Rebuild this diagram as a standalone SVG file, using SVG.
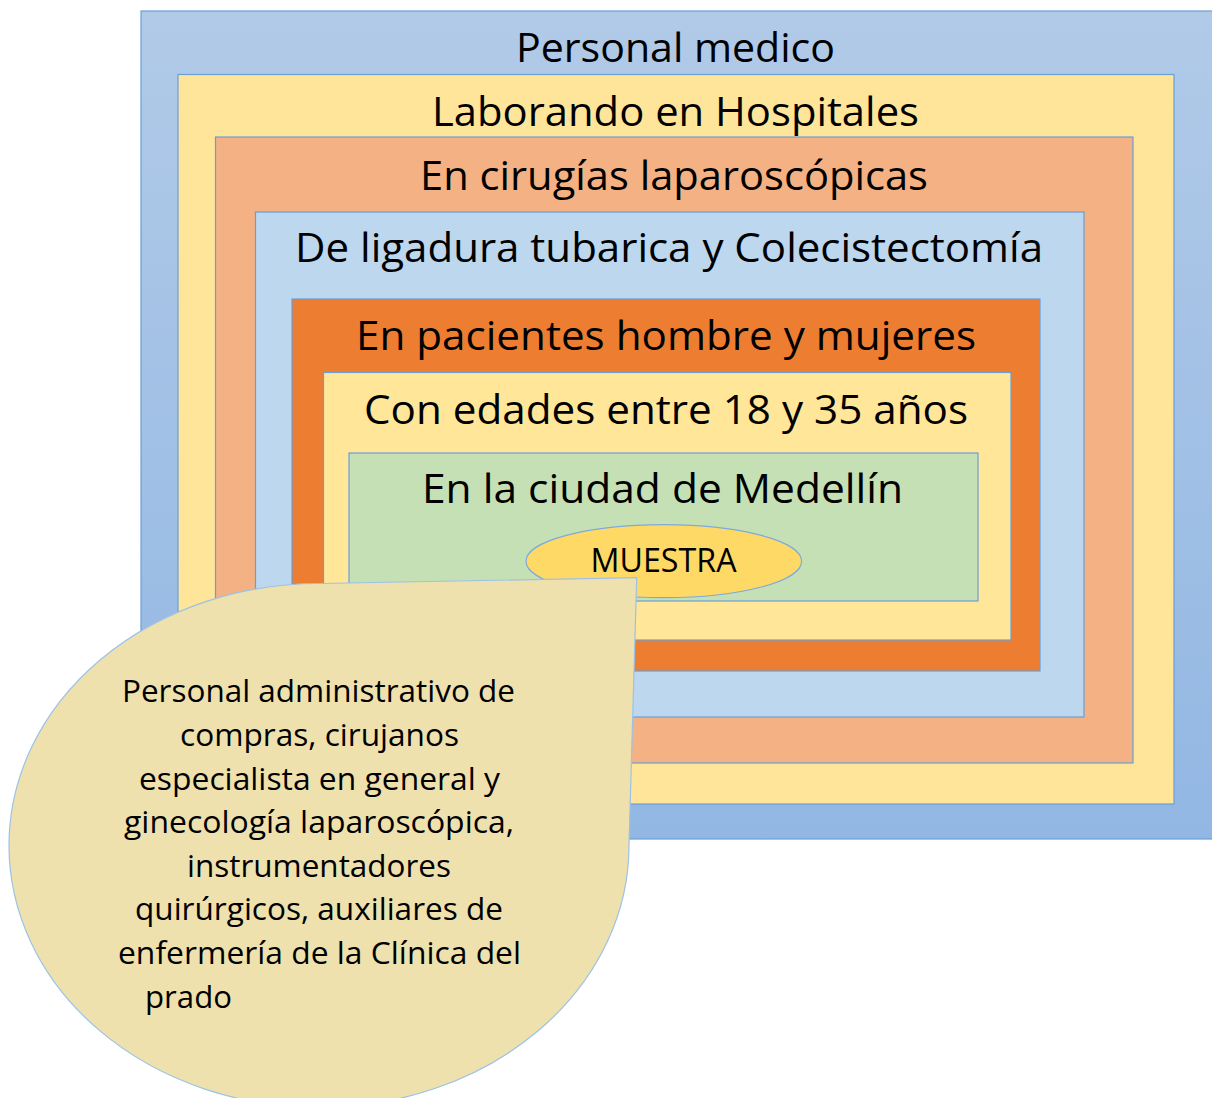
<svg xmlns="http://www.w3.org/2000/svg" width="1212" height="1098" viewBox="0 0 1212 1098">
  <defs>
    <linearGradient id="gBlue" x1="0" y1="0" x2="0" y2="1">
      <stop offset="0" stop-color="#b1cae8"/>
      <stop offset="1" stop-color="#92b7e3"/>
    </linearGradient>
    <style>
      .box { stroke: #6a9fd6; stroke-width: 1.2; }
      .hdr { font-family: "Open Sans", "Liberation Sans", sans-serif; font-size: 40px; fill: #000; }
      .co { font-family: "Open Sans", "Liberation Sans", sans-serif; font-size: 31px; fill: #000; }
      .mu { font-family: "Open Sans", "Liberation Sans", sans-serif; font-size: 32px; fill: #000; }
    </style>
  </defs>
  <rect width="1212" height="1098" fill="#ffffff"/>

  <g id="personal-medico">
    <rect class="box" x="141" y="11" width="1074" height="828" fill="url(#gBlue)"/>
    <text class="hdr" x="516" y="62" textLength="319" lengthAdjust="spacingAndGlyphs">Personal medico</text>
  </g>
  <g id="hospitales">
    <rect class="box" x="178" y="74.5" width="996" height="729.5" fill="#ffe599"/>
    <text class="hdr" x="432" y="126" textLength="487" lengthAdjust="spacingAndGlyphs">Laborando en Hospitales</text>
  </g>
  <g id="cirugias">
    <rect class="box" x="215.5" y="137" width="917.5" height="626" fill="#f4b183"/>
    <text class="hdr" x="420" y="190" textLength="508" lengthAdjust="spacingAndGlyphs">En cirugías laparoscópicas</text>
  </g>
  <g id="ligadura">
    <rect class="box" x="255.5" y="212" width="828.5" height="505" fill="#bdd7ee"/>
    <text class="hdr" x="295" y="262" textLength="748" lengthAdjust="spacingAndGlyphs">De ligadura tubarica y Colecistectomía</text>
  </g>
  <g id="pacientes">
    <rect class="box" x="292" y="299" width="748" height="372" fill="#ed7d31"/>
    <text class="hdr" x="356" y="350" textLength="620" lengthAdjust="spacingAndGlyphs">En pacientes hombre y mujeres</text>
  </g>
  <g id="edades">
    <rect class="box" x="323.5" y="372.5" width="687.5" height="267.5" fill="#ffe699"/>
    <text class="hdr" x="364" y="424" textLength="604" lengthAdjust="spacingAndGlyphs">Con edades entre 18 y 35 años</text>
  </g>
  <g id="medellin">
    <rect class="box" x="349" y="453" width="629" height="148" fill="#c5e0b4"/>
    <text class="hdr" x="422" y="503" textLength="481" lengthAdjust="spacingAndGlyphs">En la ciudad de Medellín</text>
  </g>
  <g id="muestra">
    <ellipse cx="663.8" cy="561.2" rx="137.8" ry="36.5" fill="#ffd966" stroke="#7eaadb" stroke-width="1.2"/>
    <text class="mu" x="590.5" y="572.3" textLength="146" lengthAdjust="spacingAndGlyphs">MUESTRA</text>
  </g>

  <g id="callout">
    <path d="M 636.7,577.7 L 629,845 A 310 262 0 1 1 320,583.5 Z" fill="#eee1ae" stroke="#9cc2e5" stroke-width="1.2"/>
    <text class="co" x="122" y="701.5" textLength="393" lengthAdjust="spacingAndGlyphs">Personal administrativo de</text>
    <text class="co" x="180" y="745.5" textLength="279" lengthAdjust="spacingAndGlyphs">compras, cirujanos</text>
    <text class="co" x="139" y="789.5" textLength="361" lengthAdjust="spacingAndGlyphs">especialista en general y</text>
    <text class="co" x="124" y="833" textLength="390" lengthAdjust="spacingAndGlyphs">ginecología laparoscópica,</text>
    <text class="co" x="187" y="876.5" textLength="264" lengthAdjust="spacingAndGlyphs">instrumentadores</text>
    <text class="co" x="135" y="920" textLength="368" lengthAdjust="spacingAndGlyphs">quirúrgicos, auxiliares de</text>
    <text class="co" x="118" y="964" textLength="403" lengthAdjust="spacingAndGlyphs">enfermería de la Clínica del</text>
    <text class="co" x="145" y="1008" textLength="87" lengthAdjust="spacingAndGlyphs">prado</text>
  </g>
</svg>
